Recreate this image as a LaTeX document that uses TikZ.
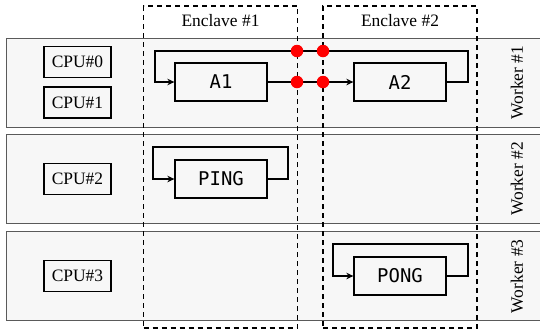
\documentclass[tikz,border=0pt]{standalone}
\usepackage{fontspec}
\setmainfont{Liberation Serif}
\newfontfamily\codefont{DejaVu Sans Mono}
\definecolor{rowfill}{HTML}{F7F7F7}
\definecolor{rowline}{HTML}{5A5A5A}
\definecolor{probe}{HTML}{FF0000}
\usetikzlibrary{arrows.meta}

\begin{document}
\begin{tikzpicture}[x=1bp,y=-1bp,>={Stealth[length=7bp,width=6.5bp]},
  every node/.style={font=\fontsize{17.5}{20}\selectfont},
  worker/.style={draw=rowline,fill=rowfill,line width=0.8bp,minimum width=540bp,minimum height=89bp,inner sep=0pt},
  enclave/.style={draw,line width=1.2bp,dash pattern=on 5bp off 4bp,minimum width=154bp,minimum height=322bp,inner sep=0pt},
  cpu/.style={draw,line width=1.3bp,minimum width=67bp,minimum height=31bp,inner sep=0pt},
  task/.style={draw,fill=rowfill,line width=1.3bp,minimum width=92bp,minimum height=38bp,inner sep=0pt,font=\codefont\fontsize{19}{21}\selectfont},
  flow/.style={->,line width=1.3bp},
  dot/.style={circle,fill=probe,minimum size=12.5bp,inner sep=0pt}]
\useasboundingbox (0,0) rectangle (540,335);
% worker rows
\node[worker] (w1) at (276,82.5) {};
\node[worker] (w2) at (276,178.8) {};
\node[worker] (w3) at (276,276.3) {};
\node[rotate=90] (l1) at (517,82.5) {Worker \#1};
\node[rotate=90] (l2) at (517,178.8) {Worker \#2};
\node[rotate=90] (l3) at (517,276.3) {Worker \#3};
% cpus
\node[cpu] (cpu0) at (77.5,62) {CPU\#0};
\node[cpu] (cpu1) at (77.5,102.5) {CPU\#1};
\node[cpu] (cpu2) at (77.5,179) {CPU\#2};
\node[cpu] (cpu3) at (77.5,276) {CPU\#3};
% enclaves
\node[enclave] (e1) at (220.5,167) {};
\node[enclave] (e2) at (400,167) {};
\node (t1) at (220.5,21) {Enclave \#1};
\node (t2) at (400,21) {Enclave \#2};
% tasks
\node[task] (a1) at (221,82) {A1};
\node[task] (a2) at (400,82) {A2};
\node[task] (ping) at (221,179) {PING};
\node[task] (pong) at (400,276) {PONG};
\coordinate (a2r) at (468,51);
\coordinate (a1l) at (155,51);
\coordinate (pingr) at (288,147);
\coordinate (pingl) at (153,147);
\coordinate (pongr) at (468,244);
\coordinate (pongl) at (333,244);
\draw[flow] (a1) -- (a2);
\draw[flow] (a2.east) -| (a2r) -- (a1l) |- (a1.west);
\draw[flow] (ping.east) -| (pingr) -- (pingl) |- (ping.west);
\draw[flow] (pong.east) -| (pongr) -- (pongl) |- (pong.west);
% crossings
\node[dot] (x1) at (297,51) {};
\node[dot] (x2) at (323,51) {};
\node[dot] (x3) at (297,82) {};
\node[dot] (x4) at (323,82) {};
\end{tikzpicture}
\end{document}
